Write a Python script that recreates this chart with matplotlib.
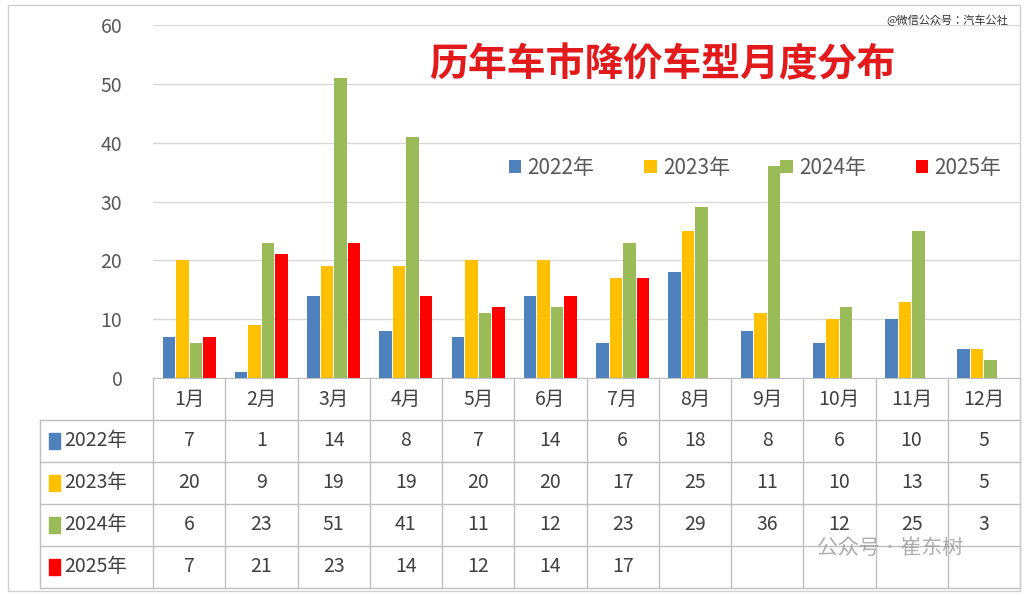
import matplotlib
matplotlib.use("Agg")
import matplotlib.pyplot as plt
from matplotlib import font_manager
import numpy as np
from matplotlib.patches import Rectangle

cjk = [f.name for f in font_manager.fontManager.ttflist if "CJK" in f.name]
plt.rcParams["font.family"] = (sorted(set(cjk))[:1] or []) + ["DejaVu Sans"]

months = ["1月", "2月", "3月", "4月", "5月", "6月", "7月", "8月", "9月", "10月", "11月", "12月"]
series_names = ["2022年", "2023年", "2024年", "2025年"]
v2022 = [7, 1, 14, 8, 7, 14, 6, 18, 8, 6, 10, 5]
v2023 = [20, 9, 19, 19, 20, 20, 17, 25, 11, 10, 13, 5]
v2024 = [6, 23, 51, 41, 11, 12, 23, 29, 36, 12, 25, 3]
v2025 = [7, 21, 23, 14, 12, 14, 17]
colors = ["#4F81BD", "#FFC000", "#9BBB59", "#FF0000"]
all_vals = [v2022, v2023, v2024, v2025]

W, H = 1028, 595
fig = plt.figure(figsize=(W / 100, H / 100), dpi=100)
fig.add_artist(Rectangle((8 / W, 4 / H), 1012 / W, 586 / H, transform=fig.transFigure,
                         fill=False, ec="#D0D0D0", lw=1))
ax = fig.add_axes([153 / W, 1 - 378 / H, 867 / W, 353 / H])
ax.set_xlim(-0.5, 11.5)
ax.set_ylim(0, 60)
ax.set_yticks(range(0, 61, 10))
ax.tick_params(axis="y", labelsize=14, labelcolor="#595959", length=0, pad=22)
ax.set_xticks([])
ax.grid(axis="y", color="#D9D9D9", lw=1)
ax.set_axisbelow(True)
for s in ["top", "right", "left"]:
    ax.spines[s].set_visible(False)
ax.spines["bottom"].set_color("#BFBFBF")

x = np.arange(len(months))
bw = 0.175
offs = [-0.28, -0.093, 0.093, 0.28]
for vals, c, o, name in zip(all_vals, colors, offs, series_names):
    ax.bar(x[:len(vals)] + o, vals, width=bw, color=c, label=name)

ax.legend(loc="center right", bbox_to_anchor=(1.0, 0.595), ncol=4, frameon=False,
          fontsize=15, handlelength=0.6, handleheight=0.6, columnspacing=2.4,
          handletextpad=0.3, labelcolor="#595959")
ax.text(0.587, 0.887, "历年车市降价车型月度分布", transform=ax.transAxes, ha="center",
        va="center", fontsize=28, fontweight="bold", color="#E31A1C")
fig.text(1008 / W, 1 - 20 / H, "@微信公众号：汽车公社", ha="right", va="center",
         fontsize=8, color="#333333")

# data table below the axis
row_h = 42 / 353
line_kw = dict(color="#BFBFBF", lw=1, transform=ax.get_xaxis_transform(), clip_on=False)
x_left = -0.5 - (153 - 40) / (867 / 12)
for i in range(13):
    xv = -0.5 + i
    ax.plot([xv, xv], [0, -5 * row_h], **line_kw)
ax.plot([x_left, x_left], [-row_h, -5 * row_h], **line_kw)
for r in range(1, 6):
    ax.plot([x_left, 11.5], [-r * row_h, -r * row_h], **line_kw)
tx = ax.get_xaxis_transform()
for i, m in enumerate(months):
    ax.text(i, -0.5 * row_h, m, transform=tx, ha="center", va="center", fontsize=14,
            color="#404040")
for r, (name, vals, c) in enumerate(zip(series_names, all_vals, colors)):
    yc = -(r + 1.5) * row_h
    ax.add_patch(Rectangle((x_left + 0.12, yc - 0.022), 0.16, 0.044, transform=tx,
                           color=c, clip_on=False))
    ax.text(x_left + 0.33, yc, name, transform=tx, ha="left", va="center", fontsize=14,
            color="#404040")
    for i, v in enumerate(vals):
        ax.text(i, yc, str(v), transform=tx, ha="center", va="center", fontsize=14,
                color="#404040")

fig.text(890 / W, 1 - 548 / H, "公众号 · 崔东树", ha="center", va="center", fontsize=15,
         color="#9A9A9A", alpha=0.8)
fig.savefig("out.png", dpi=100)
